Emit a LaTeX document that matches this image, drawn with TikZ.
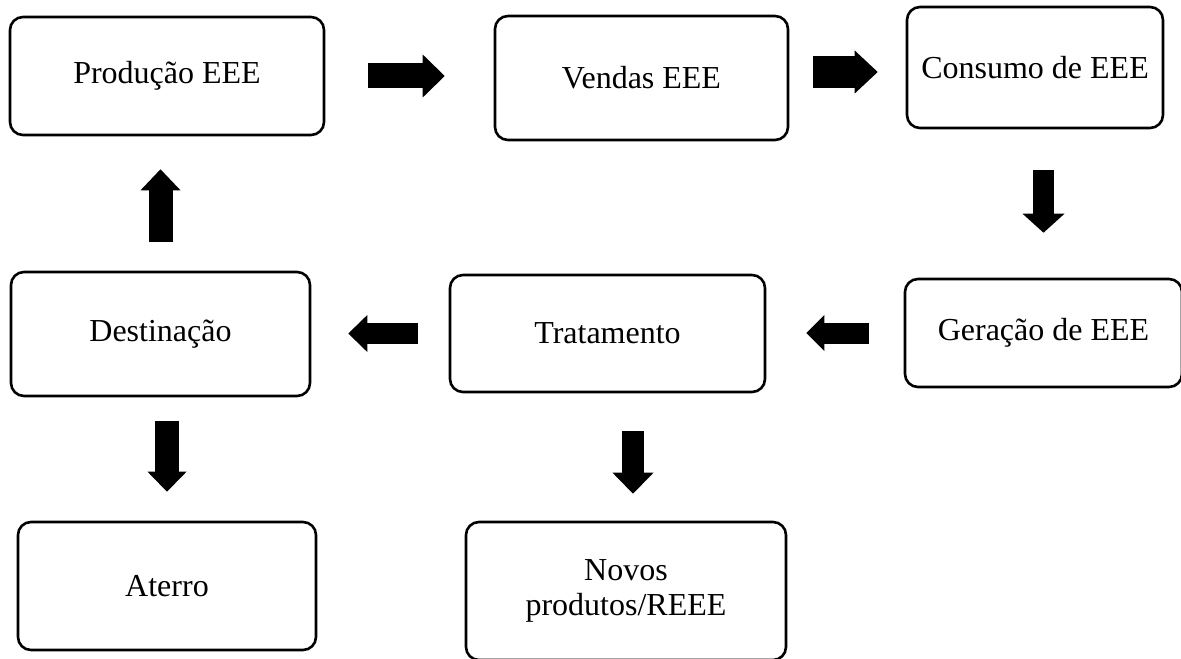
\documentclass[tikz,border=0pt]{standalone}
\usepackage{fontspec}
\setmainfont{Liberation Serif}
\usetikzlibrary{arrows.meta,calc}

\begin{document}
\begin{tikzpicture}[x=0.5pt,y=-0.5pt]
			\tikzset{caixa/.style={draw,line width=1.3pt,rounded corners=6.5pt,inner sep=0pt,align=center,font=\fontsize{16}{17.5}\selectfont},
				seta/.style n args={3}{line width=#1,-{Triangle[width=#2,length=#3,line width=0pt]}}}
			\useasboundingbox (0,0) rectangle (1181,658);
			\node[caixa,minimum width=157pt,minimum height=59pt] (prod) at (167,76) {Produção EEE};
			\node[caixa,minimum width=146.5pt,minimum height=62pt] (vend) at (641.5,78) {Vendas EEE};
			\node[caixa,minimum width=128pt,minimum height=60.5pt] (cons) at (1035,67.5) {Consumo de EEE};
			\node[caixa,minimum width=138.5pt,minimum height=54pt] (gera) at (1043.5,333) {Geração de EEE};
			\node[caixa,minimum width=157.5pt,minimum height=58.5pt] (trat) at (607.5,333.5) {Tratamento};
			\node[caixa,minimum width=149.5pt,minimum height=62pt] (dest) at (160.5,334) {Destinação};
			\node[caixa,minimum width=149pt,minimum height=64pt] (ater) at (167,586) {Aterro};
			\node[caixa,minimum width=160pt,minimum height=69pt] (novo) at (626,591) {Novos\\produtos/REEE};
			\draw[seta={12.5pt}{21.5pt}{11pt},shorten <=21.5pt,shorten >=24.5pt] (prod.east) -- (prod.east -| vend.west);
			\draw[seta={16pt}{21.5pt}{11.5pt},shorten <=12pt,shorten >=14pt] ($(vend.east)+(0,-6)$) -- ($(cons.west)+(0,4.5)$);
			\draw[seta={10.5pt}{21pt}{9.5pt},shorten <=20.5pt,shorten >=22.5pt] (gera.north |- cons.south) -- (gera.north);
			\draw[seta={10.5pt}{18pt}{9pt},shorten <=17.5pt,shorten >=20pt] (gera.west) -- (gera.west -| trat.east);
			\draw[seta={10.5pt}{18.5pt}{9.5pt},shorten <=15.5pt,shorten >=18.5pt] (trat.west) -- (trat.west -| dest.east);
			\draw[seta={12pt}{20pt}{10.5pt},shorten <=14.5pt,shorten >=16.5pt] (dest.north) -- (dest.north |- prod.south);
			\draw[seta={12pt}{19.5pt}{10pt},shorten <=12pt,shorten >=14.5pt] (ater.north |- dest.south) -- (ater.north);
			\draw[seta={11pt}{20.5pt}{10.5pt},shorten <=19pt,shorten >=13.5pt] ($(trat.south)+(25.5,0)$) -- ($(novo.north)+(7,0)$);
		\end{tikzpicture}
\end{document}
